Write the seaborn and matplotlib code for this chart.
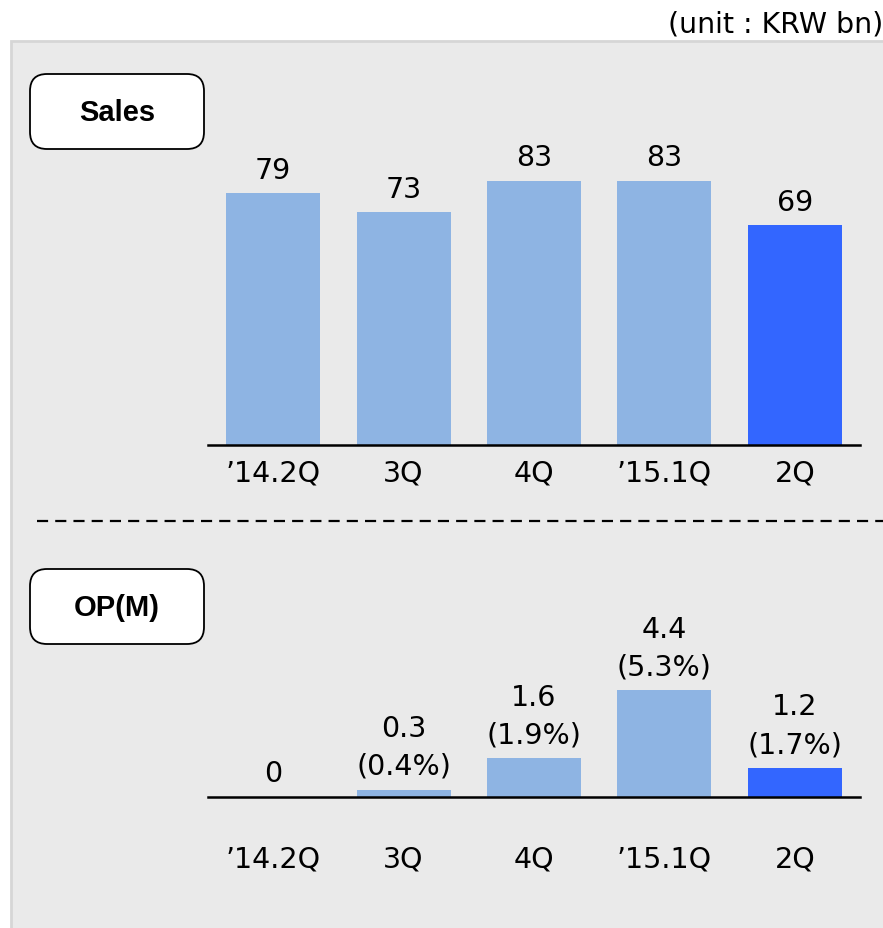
import matplotlib
matplotlib.use("Agg")
import matplotlib.pyplot as plt
from matplotlib.patches import FancyBboxPatch, Rectangle
from matplotlib.lines import Line2D
import seaborn as sns
import pandas as pd

# Quarterly figures (KRW bn)
quarters = ["\u201914.2Q", "3Q", "4Q", "\u201915.1Q", "2Q"]
sales = [79, 73, 83, 83, 69]
op = [0, 0.3, 1.6, 4.4, 1.2]
op_margin = [None, 0.4, 1.9, 5.3, 1.7]

light_blue = "#8EB4E3"
highlight = "#3366FF"
bar_colors = [light_blue, light_blue, light_blue, light_blue, highlight]

sns.set_theme(style="white")
plt.rcParams["font.family"] = ["DejaVu Sans"]
plt.rcParams["text.color"] = "black"
plt.rcParams["xtick.color"] = "black"

W, H, DPI = 883, 929, 100
fig = plt.figure(figsize=(W / DPI, H / DPI), dpi=DPI)
fig.patch.set_facecolor("white")


def px_rect(x0, y0_top, w, h):
    """Figure-fraction rect from pixel coords measured from the top-left."""
    return [x0 / W, (H - y0_top - h) / H, w / W, h / H]


# grey background panel
panel = Rectangle((11 / DPI, -1), (W + 50) / DPI, (H - 42) / DPI + 1,
                  transform=fig.dpi_scale_trans, facecolor="#EAEAEA",
                  edgecolor="#D6D6D6", linewidth=2, zorder=0)
fig.add_artist(panel)

fig.text(1.0, (H - 24) / H, "(unit : KRW bn)", ha="right", va="center",
         fontsize=20.5, color="black")

# section label boxes
for label, top in [("Sales", 75), ("OP(M)", 570)]:
    box = FancyBboxPatch((30 / DPI, (H - top - 75) / DPI), 174 / DPI, 75 / DPI,
                         boxstyle="round,pad=0,rounding_size=0.17",
                         transform=fig.dpi_scale_trans, facecolor="white",
                         edgecolor="black", linewidth=1.3, zorder=2)
    fig.add_artist(box)
    fig.text(117 / W, (H - top - 38) / H, label, ha="center", va="center",
             fontsize=21, fontweight="bold", family="Liberation Sans",
             color="black", zorder=3)

# dashed separator
fig.add_artist(Line2D([37 / W, 1.0], [(H - 522) / H] * 2, transform=fig.transFigure,
                      color="black", linewidth=1.6, linestyle=(0, (5, 3.2))))

df_sales = pd.DataFrame({"quarter": quarters, "value": sales})
df_op = pd.DataFrame({"quarter": quarters, "value": op})


def draw_bars(ax, df, ymax, labels, tick_pad):
    sns.barplot(data=df, x="quarter", y="value", hue="quarter", order=quarters,
                hue_order=quarters, palette=bar_colors, width=0.72,
                saturation=1, legend=False, linewidth=0, ax=ax)
    ax.set_xlim(-0.5, len(quarters) - 0.5)
    ax.set_ylim(0, ymax)
    ax.set_facecolor("none")
    for s in ["top", "left", "right"]:
        ax.spines[s].set_visible(False)
    ax.spines["bottom"].set_color("black")
    ax.spines["bottom"].set_linewidth(1.8)
    ax.set_yticks([])
    ax.set_xlabel("")
    ax.set_ylabel("")
    ax.tick_params(axis="x", length=0, pad=tick_pad, labelsize=20.5, colors="black")
    for i, (v, t) in enumerate(zip(df["value"], labels)):
        ax.annotate(t, (i, v), xytext=(0, 7), textcoords="offset points",
                    ha="center", va="bottom", fontsize=20.5, linespacing=1.45,
                    color="black")


ax1 = fig.add_axes(px_rect(208, 446 - 318.5, 652, 318.5))
draw_bars(ax1, df_sales, 100, [str(v) for v in sales], 10)

op_labels = []
for v, m in zip(op, op_margin):
    op_labels.append(f"{v:g}" if m is None else f"{v:g}\n({m:g}%)")

ax2 = fig.add_axes(px_rect(208, 798 - 170, 652, 170))
draw_bars(ax2, df_op, 7, op_labels, 34)

fig.savefig("out.png", dpi=DPI, facecolor="white")
